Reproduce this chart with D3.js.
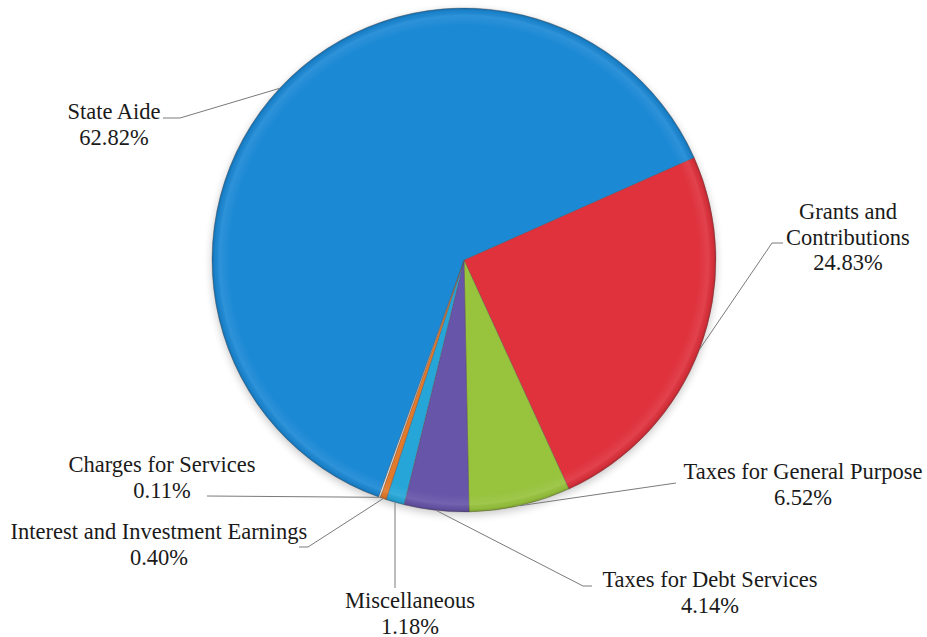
<!DOCTYPE html>
<html>
<head>
<meta charset="utf-8">
<script src="https://cdn.jsdelivr.net/npm/d3@7"></script>
<style>
  html, body { margin: 0; padding: 0; background: #ffffff; }
  svg { display: block; }
</style>
</head>
<body>
<svg id="chart" width="927" height="637"></svg>
<script>
// Revenue sources, in the order they run clockwise around the pie
const categories = [
  "Grants and Contributions",
  "Taxes for General Purpose",
  "Taxes for Debt Services",
  "Miscellaneous",
  "Interest and Investment Earnings",
  "Charges for Services",
  "State Aide"
];
const shares = [24.83, 6.52, 4.14, 1.18, 0.40, 0.11, 62.82];
const percentLabels = ["24.83%", "6.52%", "4.14%", "1.18%", "0.40%", "0.11%", "62.82%"];
// Label text split into lines
const labelLines = [
  ["Grants and", "Contributions"],
  ["Taxes for General Purpose"],
  ["Taxes for Debt Services"],
  ["Miscellaneous"],
  ["Interest and Investment Earnings"],
  ["Charges for Services"],
  ["State Aide"]
];
const sliceColors = ["#df333c", "#97c33c", "#6654a8", "#27a6d8", "#e27a2a", "#f4efe8", "#1b89d5"];

// Label placement: text centre x, first baseline y, leader elbow and leader end
const labelLayout = [
  { x: 848, y: 219, elbow: [772, 243], end: [783, 243] },
  { x: 803, y: 479, elbow: null,        end: [676, 483] },
  { x: 710, y: 587, elbow: [583, 586], end: [592, 586] },
  { x: 410, y: 608, elbow: null,        end: [395, 588] },
  { x: 159, y: 539, elbow: [308, 547], end: [299, 547] },
  { x: 162, y: 472, elbow: null,        end: [207, 496] },
  { x: 114, y: 119, elbow: [180, 118], end: [163, 118] }
];

const labelFamily = '"Liberation Serif", "Times New Roman", serif';

const svg = d3.select("#chart");
const cx = 464, cy = 260, radius = 252;
const startDeg = 66;

const defs = svg.append("defs");
const shadow = defs.append("filter").attr("id", "pieShadow")
  .attr("x", "-10%").attr("y", "-10%").attr("width", "120%").attr("height", "125%");
shadow.append("feGaussianBlur").attr("in", "SourceAlpha").attr("stdDeviation", 4).attr("result", "b");
shadow.append("feOffset").attr("in", "b").attr("dy", 3).attr("result", "o");
shadow.append("feComponentTransfer").attr("in", "o").attr("result", "s")
  .append("feFuncA").attr("type", "linear").attr("slope", 0.22);
const merge = shadow.append("feMerge");
merge.append("feMergeNode").attr("in", "s");
merge.append("feMergeNode").attr("in", "SourceGraphic");

// Bevel: a faint pale band just inside a darker rim
const rim = defs.append("radialGradient").attr("id", "rimShade")
  .attr("gradientUnits", "userSpaceOnUse").attr("cx", 0).attr("cy", 0).attr("r", radius);
rim.append("stop").attr("offset", "0.93").attr("stop-color", "#fff").attr("stop-opacity", 0);
rim.append("stop").attr("offset", "0.97").attr("stop-color", "#fff").attr("stop-opacity", 0.08);
rim.append("stop").attr("offset", "0.988").attr("stop-color", "#000").attr("stop-opacity", 0.04);
rim.append("stop").attr("offset", "1").attr("stop-color", "#000").attr("stop-opacity", 0.2);

const pie = d3.pie()
  .sort(null)
  .value(d => d)
  .startAngle(startDeg * Math.PI / 180)
  .endAngle((startDeg + 360) * Math.PI / 180);
const arcs = pie(shares);

const arc = d3.arc().innerRadius(0).outerRadius(radius);

const g = svg.append("g").attr("transform", `translate(${cx},${cy})`);
const slices = g.append("g").attr("filter", "url(#pieShadow)");
slices.selectAll("path.slice")
  .data(arcs)
  .join("path")
  .attr("class", "slice")
  .attr("d", arc)
  .attr("fill", (d, i) => sliceColors[i])
  .attr("stroke", "#5a4a48")
  .attr("stroke-opacity", 0.45)
  .attr("stroke-width", 0.8)
  .attr("stroke-linejoin", "round");

g.append("circle").attr("r", radius).attr("fill", "url(#rimShade)").attr("pointer-events", "none");

// Leader lines from each slice's outer midpoint to its label
const leaders = svg.append("g").attr("fill", "none").attr("stroke", "#7a7a7a").attr("stroke-width", 1);
arcs.forEach((a, i) => {
  const mid = (a.startAngle + a.endAngle) / 2;
  const p0 = [cx + radius * Math.sin(mid), cy - radius * Math.cos(mid)];
  const L = labelLayout[i];
  const pts = [p0];
  if (L.elbow) pts.push(L.elbow);
  pts.push(L.end);
  leaders.append("path").attr("d", d3.line()(pts));
});

// Labels: category lines followed by the percentage
const labels = svg.append("g");
categories.forEach((c, i) => {
  const L = labelLayout[i];
  const lines = labelLines[i].concat([percentLabels[i]]);
  lines.forEach((ln, k) => {
    labels.append("text")
      .attr("x", L.x)
      .attr("y", L.y + k * 25.5)
      .attr("text-anchor", "middle")
      .style("font-family", labelFamily)
      .style("font-size", "22.5px")
      .style("fill", "#1a1a1a")
      .text(ln);
  });
});
</script>
</body>
</html>
